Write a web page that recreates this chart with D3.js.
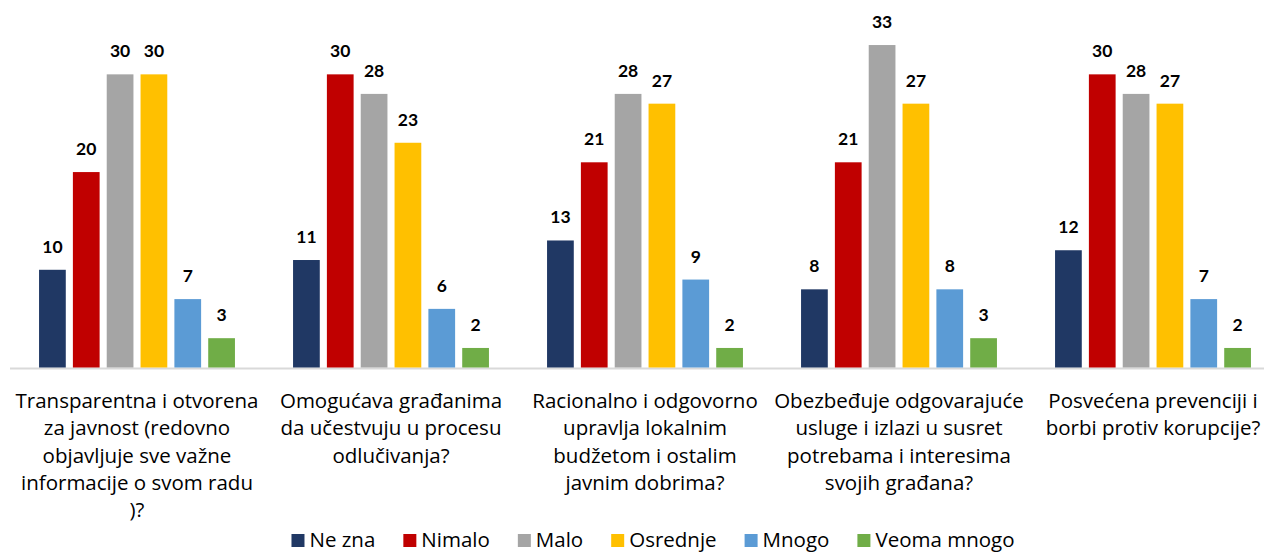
<!DOCTYPE html>
<html><head><meta charset="utf-8">
<script src="https://cdn.jsdelivr.net/npm/d3@7"></script>
<style>
html,body{margin:0;padding:0;background:#fff;}
svg{display:block;}
text{font-family:Lato,"Open Sans",sans-serif;fill:#000;}
text.lbl{font-family:"Open Sans",Lato,sans-serif;}
</style></head>
<body>
<svg id="chart" width="1264" height="553"></svg>
<script>
const categories = [
  ["Transparentna i otvorena", "za javnost (redovno", "objavljuje sve važne", "informacije o svom radu", ")?"],
  ["Omogućava građanima", "da učestvuju u procesu", "odlučivanja?"],
  ["Racionalno i odgovorno", "upravlja lokalnim", "budžetom i ostalim", "javnim dobrima?"],
  ["Obezbeđuje odgovarajuće", "usluge i izlazi u susret", "potrebama i interesima", "svojih građana?"],
  ["Posvećena prevenciji i", "borbi protiv korupcije?"]
];
const seriesNames = ["Ne zna", "Nimalo", "Malo", "Osrednje", "Mnogo", "Veoma mnogo"];
const neZna      = [10, 11, 13, 8, 12];
const nimalo     = [20, 30, 21, 21, 30];
const malo       = [30, 28, 28, 33, 28];
const osrednje   = [30, 23, 27, 27, 27];
const mnogo      = [7, 6, 9, 8, 7];
const veomaMnogo = [3, 2, 2, 3, 2];
const colors = ["#203864", "#C00000", "#A5A5A5", "#FFC000", "#5B9BD5", "#70AD47"];

const seriesValues = [neZna, nimalo, malo, osrednje, mnogo, veomaMnogo];
const svg = d3.select("#chart");
const catIdx = d3.range(categories.length);

const x0 = d3.scaleBand().domain(catIdx).range([10, 1280]).padding(0);
const x1 = d3.scaleBand().domain(d3.range(seriesNames.length))
  .range([25.5, x0.bandwidth() - 25.5]).paddingInner(0.21).paddingOuter(0.105);
const y = d3.scaleLinear().domain([0, 35]).range([367.5, 25.5]);

// axis line
svg.append("line").attr("x1", 10).attr("x2", 1264)
  .attr("y1", y(0) + 1).attr("y2", y(0) + 1)
  .attr("stroke", "#d9d9d9").attr("stroke-width", 2);

const groups = svg.selectAll("g.cat").data(catIdx).join("g")
  .attr("class", "cat").attr("transform", i => `translate(${x0(i)},0)`);

groups.selectAll("rect").data(i => seriesValues.map((s, k) => ({k, v: s[i]}))).join("rect")
  .attr("x", d => x1(d.k)).attr("width", x1.bandwidth())
  .attr("y", d => y(d.v)).attr("height", d => y(0) - y(d.v))
  .attr("fill", d => colors[d.k]);

groups.selectAll("text.val").data(i => seriesValues.map((s, k) => ({k, v: s[i]}))).join("text")
  .attr("class", "val")
  .attr("x", d => x1(d.k) + x1.bandwidth() / 2)
  .attr("y", d => y(d.v) - 17)
  .attr("text-anchor", "middle")
  .style("font-size", "17.5px").style("font-weight", "bold")
  .text(d => d.v);

// category labels
const lab = svg.append("g");
categories.forEach((lines, i) => {
  const t = lab.append("text").attr("class", "lbl").attr("text-anchor", "middle")
    .attr("x", x0(i) + x0.bandwidth() / 2).attr("y", 408)
    .style("font-size", "20.5px");
  lines.forEach((ln, j) => t.append("tspan")
    .attr("x", x0(i) + x0.bandwidth() / 2).attr("dy", j === 0 ? 0 : 27.3).text(ln));
  const bb = t.node().getBBox();
  if (bb.x + bb.width > 1262) {
    const shift = bb.x + bb.width - 1262;
    t.selectAll("tspan").attr("x", x0(i) + x0.bandwidth() / 2 - shift);
  }
});

// legend
const leg = svg.append("g");
let lx = 0;
seriesNames.forEach((nm, k) => {
  const g = leg.append("g");
  g.append("rect").attr("x", lx).attr("y", -13).attr("width", 13).attr("height", 13).attr("fill", colors[k]);
  const t = g.append("text").attr("class", "lbl").attr("x", lx + 18).attr("y", 0).style("font-size", "20.5px").text(nm);
  const w = t.node().getComputedTextLength();
  lx += 18 + w + 28;
});
const totalW = lx - 28;
leg.attr("transform", `translate(${653 - totalW / 2},547)`);
</script>
</body></html>
